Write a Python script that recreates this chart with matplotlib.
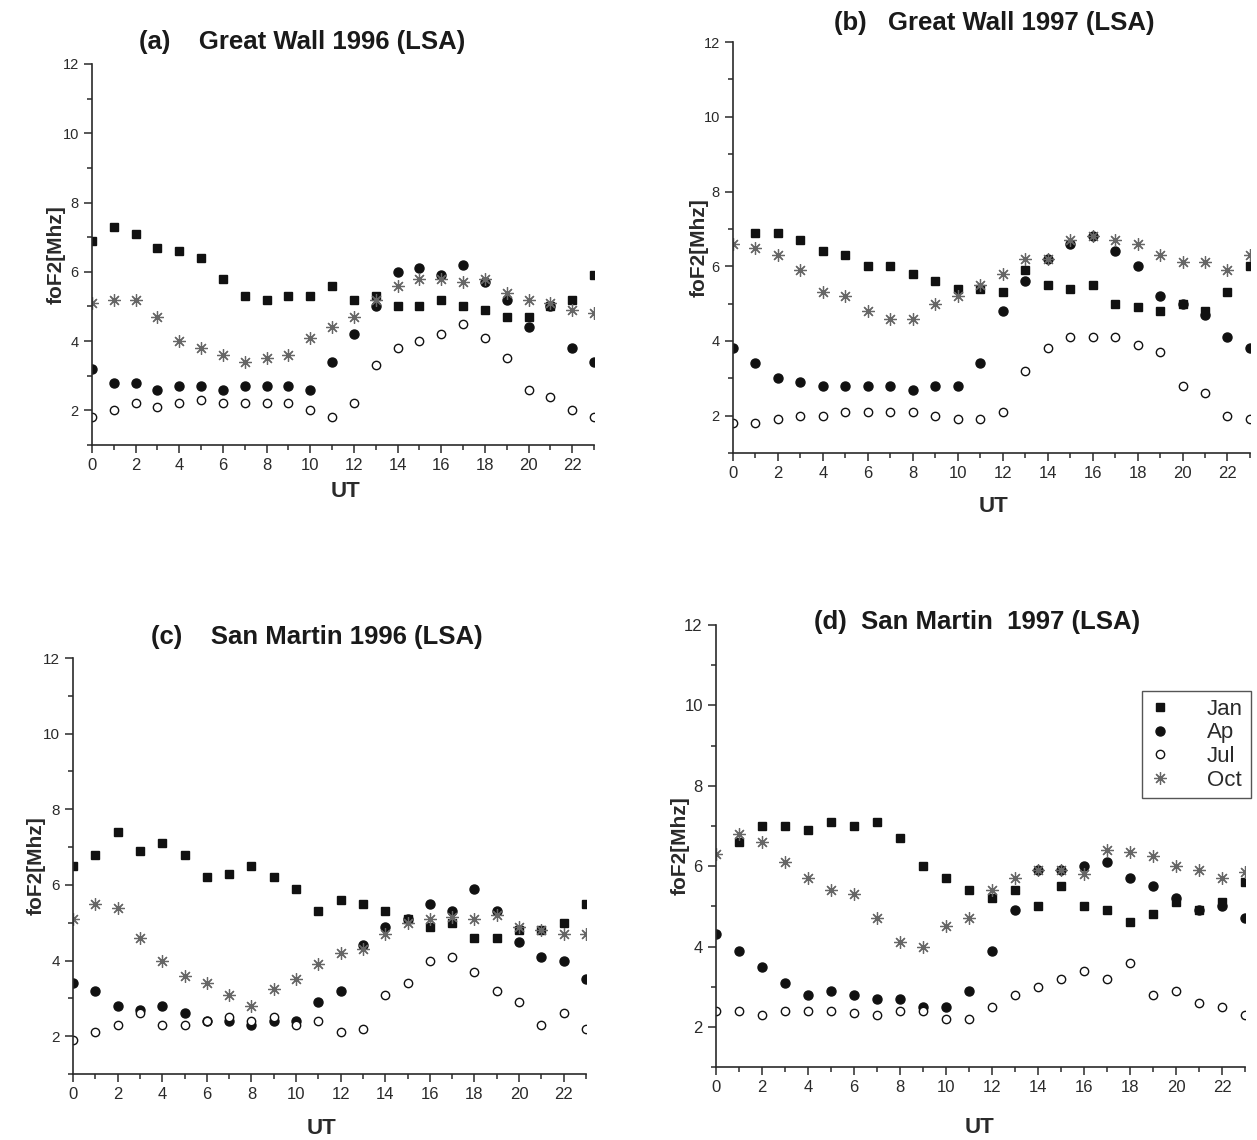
import numpy as np
import matplotlib.pyplot as plt
from matplotlib.ticker import MultipleLocator

plt.rcParams['font.family'] = ['Liberation Sans', 'DejaVu Sans']

nan = np.nan
ut = list(range(24))

# (a) Great Wall 1996
gw96_jan = [6.9, 7.3, 7.1, 6.7, 6.6, 6.4, 5.8, 5.3, 5.2, 5.3, 5.3, 5.6, 5.2, 5.3, 5.0, 5.0, 5.2, 5.0, 4.9, 4.7, 4.7, 5.0, 5.2, 5.9]
gw96_ap = [3.2, 2.8, 2.8, 2.6, 2.7, 2.7, 2.6, 2.7, 2.7, 2.7, 2.6, 3.4, 4.2, 5.0, 6.0, 6.1, 5.9, 6.2, 5.7, 5.2, 4.4, 5.0, 3.8, 3.4]
gw96_jul = [1.8, 2.0, 2.2, 2.1, 2.2, 2.3, 2.2, 2.2, 2.2, 2.2, 2.0, 1.8, 2.2, 3.3, 3.8, 4.0, 4.2, 4.5, 4.1, 3.5, 2.6, 2.4, 2.0, 1.8]
gw96_oct = [5.1, 5.2, 5.2, 4.7, 4.0, 3.8, 3.6, 3.4, 3.5, 3.6, 4.1, 4.4, 4.7, 5.2, 5.6, 5.8, 5.8, 5.7, 5.8, 5.4, 5.2, 5.1, 4.9, 4.8]

# (b) Great Wall 1997
gw97_jan = [nan, 6.9, 6.9, 6.7, 6.4, 6.3, 6.0, 6.0, 5.8, 5.6, 5.4, 5.4, 5.3, 5.9, 5.5, 5.4, 5.5, 5.0, 4.9, 4.8, 5.0, 4.8, 5.3, 6.0]
gw97_ap = [3.8, 3.4, 3.0, 2.9, 2.8, 2.8, 2.8, 2.8, 2.7, 2.8, 2.8, 3.4, 4.8, 5.6, 6.2, 6.6, 6.8, 6.4, 6.0, 5.2, 5.0, 4.7, 4.1, 3.8]
gw97_jul = [1.8, 1.8, 1.9, 2.0, 2.0, 2.1, 2.1, 2.1, 2.1, 2.0, 1.9, 1.9, 2.1, 3.2, 3.8, 4.1, 4.1, 4.1, 3.9, 3.7, 2.8, 2.6, 2.0, 1.9]
gw97_oct = [6.6, 6.5, 6.3, 5.9, 5.3, 5.2, 4.8, 4.6, 4.6, 5.0, 5.2, 5.5, 5.8, 6.2, 6.2, 6.7, 6.8, 6.7, 6.6, 6.3, 6.1, 6.1, 5.9, 6.3]

# (c) San Martin 1996
sm96_jan = [6.5, 6.8, 7.4, 6.9, 7.1, 6.8, 6.2, 6.3, 6.5, 6.2, 5.9, 5.3, 5.6, 5.5, 5.3, 5.1, 4.9, 5.0, 4.6, 4.6, 4.8, 4.8, 5.0, 5.5]
sm96_ap = [3.4, 3.2, 2.8, 2.7, 2.8, 2.6, 2.4, 2.4, 2.3, 2.4, 2.4, 2.9, 3.2, 4.4, 4.9, 5.1, 5.5, 5.3, 5.9, 5.3, 4.5, 4.1, 4.0, 3.5]
sm96_jul = [1.9, 2.1, 2.3, 2.6, 2.3, 2.3, 2.4, 2.5, 2.4, 2.5, 2.3, 2.4, 2.1, 2.2, 3.1, 3.4, 4.0, 4.1, 3.7, 3.2, 2.9, 2.3, 2.6, 2.2]
sm96_oct = [5.1, 5.5, 5.4, 4.6, 4.0, 3.6, 3.4, 3.1, 2.8, 3.25, 3.5, 3.9, 4.2, 4.3, 4.7, 5.0, 5.1, 5.15, 5.1, 5.2, 4.9, 4.8, 4.7, 4.7]

# (d) San Martin 1997
sm97_jan = [nan, 6.6, 7.0, 7.0, 6.9, 7.1, 7.0, 7.1, 6.7, 6.0, 5.7, 5.4, 5.2, 5.4, 5.0, 5.5, 5.0, 4.9, 4.6, 4.8, 5.1, 4.9, 5.1, 5.6]
sm97_ap = [4.3, 3.9, 3.5, 3.1, 2.8, 2.9, 2.8, 2.7, 2.7, 2.5, 2.5, 2.9, 3.9, 4.9, 5.9, 5.9, 6.0, 6.1, 5.7, 5.5, 5.2, 4.9, 5.0, 4.7]
sm97_jul = [2.4, 2.4, 2.3, 2.4, 2.4, 2.4, 2.35, 2.3, 2.4, 2.4, 2.2, 2.2, 2.5, 2.8, 3.0, 3.2, 3.4, 3.2, 3.6, 2.8, 2.9, 2.6, 2.5, 2.3]
sm97_oct = [6.3, 6.8, 6.6, 6.1, 5.7, 5.4, 5.3, 4.7, 4.1, 4.0, 4.5, 4.7, 5.4, 5.7, 5.9, 5.9, 5.8, 6.4, 6.35, 6.25, 6.0, 5.9, 5.7, 5.85]

titles = ['(a)    Great Wall 1996 (LSA)', '(b)   Great Wall 1997 (LSA)',
          '(c)    San Martin 1996 (LSA)', '(d)  San Martin  1997 (LSA)']
panels = [(gw96_jan, gw96_ap, gw96_jul, gw96_oct),
          (gw97_jan, gw97_ap, gw97_jul, gw97_oct),
          (sm96_jan, sm96_ap, sm96_jul, sm96_oct),
          (sm97_jan, sm97_ap, sm97_jul, sm97_oct)]

# axes boxes (left, bottom, width, height) and title centres
boxes = [[0.0732, 0.6096, 0.3994, 0.3343],
         [0.5831, 0.6026, 0.4113, 0.3605],
         [0.0581, 0.0579, 0.4081, 0.3649],
         [0.5696, 0.0640, 0.4209, 0.3877]]
title_pos = [(0.240, 0.963), (0.791, 0.980), (0.252, 0.441), (0.777, 0.454)]
ylab_x = [-0.072, -0.066, -0.072, -0.068]
xlab_pos = [(0.504, -0.123), (0.503, -0.131), (0.485, -0.130), (0.499, -0.136)]
ytick_size = [10.5, 10.5, 11, 12]

dark = '#2a2a2a'
fig = plt.figure(figsize=(12.57, 11.40), dpi=100)

for k in range(4):
    ax = fig.add_axes(boxes[k])
    jan, ap, jul, octo = panels[k]
    ax.plot(ut, jan, ls='none', marker='s', ms=6, color='#111111', label='Jan')
    ax.plot(ut, ap, ls='none', marker='o', ms=6.5, color='#111111', label='Ap')
    ax.plot(ut, jul, ls='none', marker='o', ms=6, mfc='white', mec='#111111', mew=1.0, label='Jul')
    ax.plot(ut, octo, ls='none', marker=(8, 2, 0), ms=9, mec='#666666', mew=0.9, label='Oct')

    ax.set_xlim(0, 23)
    ax.set_ylim(1, 12)
    ax.xaxis.set_major_locator(MultipleLocator(2))
    ax.xaxis.set_minor_locator(MultipleLocator(1))
    ax.yaxis.set_major_locator(MultipleLocator(2))
    ax.yaxis.set_minor_locator(MultipleLocator(1))
    ax.set_yticks([2, 4, 6, 8, 10, 12])
    for s in ['top', 'right']:
        ax.spines[s].set_visible(False)
    for s in ['left', 'bottom']:
        ax.spines[s].set_color(dark)
        ax.spines[s].set_linewidth(1.2)
    ax.tick_params(which='major', direction='out', length=6, width=1.1, color=dark,
                   labelsize=12, labelcolor=dark)
    ax.tick_params(axis='y', which='major', labelsize=ytick_size[k])
    ax.tick_params(which='minor', direction='out', length=3.5, width=1.1, color=dark)
    ax.set_xlabel('UT', fontsize=16, fontweight='bold', color=dark, va='center')
    ax.xaxis.set_label_coords(*xlab_pos[k])
    ax.set_ylabel('foF2[Mhz]', fontsize=15, fontweight='bold', color=dark, va='center')
    ax.yaxis.set_label_coords(ylab_x[k], 0.5)
    fig.text(title_pos[k][0], title_pos[k][1], titles[k], fontsize=18.5, fontweight='bold',
             color='#1a1a1a', ha='center', va='center')

    if k == 3:
        leg = ax.legend(loc='upper right', bbox_to_anchor=(1.011, 0.851), borderaxespad=0,
                        fontsize=16, frameon=True, fancybox=False, edgecolor=dark,
                        handletextpad=1.6, borderpad=0.35, labelspacing=0.12,
                        handlelength=1.0)
        leg.get_frame().set_linewidth(1.0)
        for t in leg.get_texts():
            t.set_color(dark)

fig.savefig('out.png', dpi=100)
